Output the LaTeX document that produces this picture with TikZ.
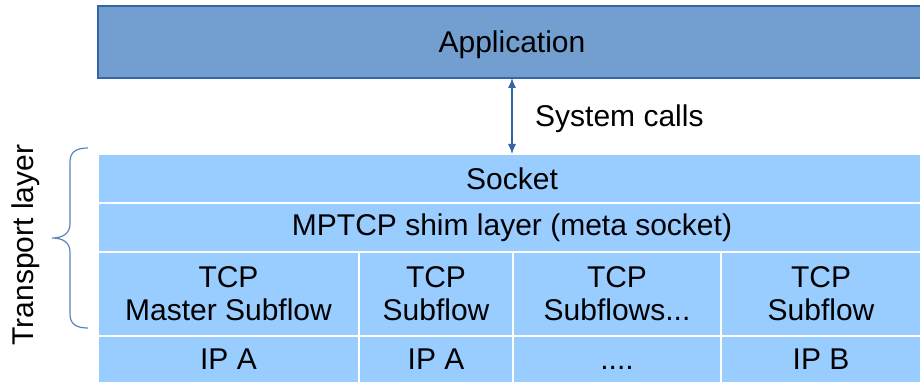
\documentclass[tikz,border=0pt]{standalone}
\usepackage{fontspec}
\setmainfont{Liberation Sans}
\usetikzlibrary{arrows.meta}
\definecolor{appfill}{HTML}{729FCF}
\definecolor{appline}{HTML}{3465A4}
\definecolor{cellfill}{HTML}{99CCFF}
\definecolor{bracec}{HTML}{5B84B8}
\begin{document}
\begin{tikzpicture}[x=1pt,y=-1pt,
  txt/.style={font=\fontsize{30}{33}\selectfont},
  cell/.style={txt,draw=white,line width=2pt,fill=cellfill,inner sep=0pt,outer sep=0pt,align=center},
  appbox/.style={txt,draw=appline,line width=2pt,fill=appfill,inner sep=0pt,outer sep=0pt},
  arr/.style={draw=appline,line width=1.2pt,{Latex[length=10pt,width=8pt]}-{Latex[length=10pt,width=8pt]}},
  bracestyle/.style={draw=bracec,line width=1.2pt}]
\useasboundingbox (0,0) rectangle (920,382);
\clip (0,0) rectangle (920,382);
\node[appbox,minimum width=828pt,minimum height=72pt] (app) at (512,42) {\raisebox{0pt}[\height][0pt]{Application}};
\node[cell,minimum width=828pt,minimum height=49pt] (sock) at (512,178.5) {Socket};
\node[cell,minimum width=828pt,minimum height=49pt] (shim) at (512,227.5) {MPTCP shim layer (meta socket)};
\node[cell,minimum width=261pt,minimum height=84pt] (tcpa) at (228.5,294) {TCP\\Master Subflow};
\node[cell,minimum width=154pt,minimum height=84pt] (tcpb) at (436,294) {TCP\\Subflow};
\node[cell,minimum width=208pt,minimum height=84pt] (tcpc) at (617,294) {TCP\\Subflows...};
\node[cell,minimum width=200pt,minimum height=84pt] (tcpd) at (821,294) {TCP\\Subflow};
\node[cell,minimum width=261pt,minimum height=47pt] (ipa) at (228.5,359.5) {IP A};
\node[cell,minimum width=154pt,minimum height=47pt] (ipb) at (436,359.5) {IP A};
\node[cell,minimum width=208pt,minimum height=47pt] (ipc) at (617,359.5) {\vphantom{IP}....};
\node[cell,minimum width=200pt,minimum height=47pt] (ipd) at (821,359.5) {IP B};
\node[txt,anchor=west,inner sep=0pt] (sys) at (535,119) {System calls};
\draw[arr] (app.south) -- (sock.north);
\node[txt,rotate=90,inner sep=0pt] (tl) at (26,245) {Transport layer};
\draw[bracestyle] (88,148) .. controls (76,148) and (70,152) .. (70,162) -- (70,224)
  .. controls (70,234) and (62,238) .. (52,238)
  .. controls (62,238) and (70,242) .. (70,252) -- (70,314)
  .. controls (70,324) and (76,328) .. (88,328);
\end{tikzpicture}
\end{document}
